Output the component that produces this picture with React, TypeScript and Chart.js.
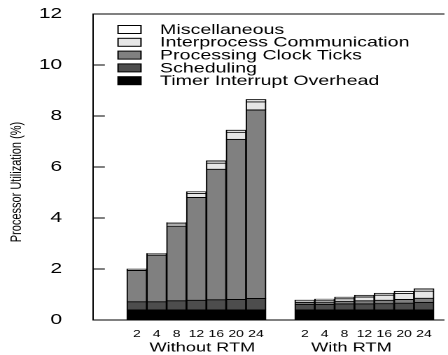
import React, { useEffect, useRef } from 'react';
import { Chart, registerables } from 'chart.js';

Chart.register(...registerables);

// ---------- data ----------
const CATEGORIES = ['2', '4', '8', '12', '16', '20', '24'];
const GROUPS = ['Without RTM', 'With RTM'];
const SERIES_LABELS = [
  'Timer Interrupt Overhead',
  'Scheduling',
  'Processing Clock Ticks',
  'Interprocess Communication',
  'Miscellaneous',
];
const SERIES_COLORS = ['#000000', '#4d4d4d', '#808080', '#e6e6e6', '#ffffff'];
const Y_TITLE = 'Processor Utilization (%)';

const timerWithout = [0.4, 0.4, 0.4, 0.4, 0.4, 0.4, 0.4];
const schedWithout = [0.32, 0.32, 0.36, 0.38, 0.4, 0.41, 0.45];
const procWithout = [1.23, 1.83, 2.93, 4.03, 5.12, 6.28, 7.39];
const ipcWithout = [0.03, 0.04, 0.09, 0.16, 0.24, 0.28, 0.32];
const miscWithout = [0.02, 0.02, 0.04, 0.06, 0.08, 0.08, 0.09];

const timerWith = [0.4, 0.4, 0.4, 0.4, 0.4, 0.4, 0.4];
const schedWith = [0.22, 0.22, 0.24, 0.24, 0.25, 0.27, 0.3];
const procWith = [0.08, 0.09, 0.1, 0.12, 0.13, 0.14, 0.16];
const ipcWith = [0.05, 0.07, 0.1, 0.15, 0.2, 0.24, 0.28];
const miscWith = [0.03, 0.04, 0.06, 0.06, 0.07, 0.08, 0.08];

const Y_MIN = 0;
const Y_MAX = 12;
const Y_STEP = 2;

// ---------- layout ----------
const W = 448;
const H = 355;
const SX = 1.4; // the original figure is stretched horizontally
const LW = W / SX;
const FONT = '"Liberation Sans", Arial, Helvetica, sans-serif';

const GROUP_GAP = 1.46; // gap between the two groups, in bar slots
const X_MIN = -2.21;
const X_MAX = 15.46;
const GROUP_LABEL_SHIFT = [0.3, -0.65];

const xPos = (g: number, i: number) => g * (CATEGORIES.length + GROUP_GAP) + i;

const seriesWithout = [timerWithout, schedWithout, procWithout, ipcWithout, miscWithout];
const seriesWith = [timerWith, schedWith, procWith, ipcWith, miscWith];

const tickPositions: number[] = [];
const tickLabels: string[] = [];
GROUPS.forEach((_, g) =>
  CATEGORIES.forEach((c, i) => {
    tickPositions.push(xPos(g, i));
    tickLabels.push(c);
  })
);
const groupPositions = GROUPS.map(
  (_, g) => xPos(g, (CATEGORIES.length - 1) / 2) + GROUP_LABEL_SHIFT[g]
);

const decorPlugin = {
  id: 'decor',
  afterDraw(chart: any) {
    const { ctx, chartArea, scales } = chart;
    ctx.save();
    // inward y tick marks
    ctx.strokeStyle = '#000';
    ctx.lineWidth = 1;
    scales.y.ticks.forEach((t: any) => {
      if (t.value === Y_MIN || t.value === Y_MAX) return;
      const y = scales.y.getPixelForValue(t.value);
      ctx.beginPath();
      ctx.moveTo(chartArea.left, y);
      ctx.lineTo(chartArea.left + 8.5, y);
      ctx.stroke();
    });
    // y axis title
    ctx.save();
    ctx.translate(12, 182);
    ctx.rotate(-Math.PI / 2);
    ctx.font = `11px ${FONT}`;
    ctx.fillStyle = '#000';
    ctx.textAlign = 'center';
    ctx.textBaseline = 'middle';
    ctx.fillText(Y_TITLE, 0, 0);
    ctx.restore();
    // legend (top series first)
    const items = chart.data.datasets.slice().reverse();
    items.forEach((ds: any, i: number) => {
      const cy = 29.5 + i * 12.8;
      ctx.fillStyle = ds.backgroundColor;
      ctx.fillRect(84.3, cy - 4, 16.4, 8);
      ctx.strokeStyle = '#000';
      ctx.lineWidth = 1;
      ctx.strokeRect(84.3, cy - 4, 16.4, 8);
      ctx.fillStyle = '#000';
      ctx.font = `14px ${FONT}`;
      ctx.textAlign = 'left';
      ctx.textBaseline = 'middle';
      ctx.fillText(ds.label, 114.3, cy + 0.5);
    });
    ctx.restore();
  },
};

export default function App() {
  const ref = useRef<HTMLCanvasElement | null>(null);

  useEffect(() => {
    if (!ref.current) return;
    const datasets = SERIES_LABELS.map((label, s) => ({
      label,
      backgroundColor: SERIES_COLORS[s],
      borderColor: '#000000',
      borderWidth: 1,
      data: [
        ...seriesWithout[s].map((v, i) => ({ x: xPos(0, i), y: v })),
        ...seriesWith[s].map((v, i) => ({ x: xPos(1, i), y: v })),
      ],
    }));

    const chart = new Chart(ref.current, {
      type: 'bar',
      data: { datasets },
      plugins: [decorPlugin],
      options: {
        animation: false,
        responsive: false,
        devicePixelRatio: 2,
        layout: { padding: { left: 0, right: 3, top: 0, bottom: 0 } },
        plugins: { legend: { display: false }, tooltip: { enabled: false } },
        datasets: { bar: { barPercentage: 1, categoryPercentage: 1 } },
        scales: {
          x: {
            type: 'linear',
            offset: false,
            stacked: true,
            min: X_MIN,
            max: X_MAX,
            position: 'bottom',
            weight: 0,
            grid: { offset: false, drawOnChartArea: false, drawTicks: false },
            border: { display: true, color: '#000', width: 1 },
            afterBuildTicks: (s: any) => {
              s.ticks = tickPositions.map((v) => ({ value: v }));
            },
            ticks: {
              autoSkip: false,
              maxRotation: 0,
              color: '#000',
              padding: 8,
              font: { family: FONT, size: 10 },
              callback: (_v: any, i: number) => tickLabels[i],
            },
            afterFit: (s: any) => {
              s.height = 20;
              s.paddingLeft = 0;
              s.paddingRight = 0;
            },
          },
          xg: {
            type: 'linear',
            offset: false,
            min: X_MIN,
            max: X_MAX,
            position: 'bottom',
            weight: 1,
            grid: { display: false, drawTicks: false },
            border: { display: false },
            afterBuildTicks: (s: any) => {
              s.ticks = groupPositions.map((v) => ({ value: v }));
            },
            ticks: {
              autoSkip: false,
              maxRotation: 0,
              color: '#000',
              padding: 0,
              font: { family: FONT, size: 13 },
              callback: (_v: any, i: number) => GROUPS[i],
            },
            afterFit: (s: any) => {
              s.height = 15;
              s.paddingLeft = 0;
              s.paddingRight = 0;
            },
          },
          xt: {
            type: 'linear',
            offset: false,
            min: X_MIN,
            max: X_MAX,
            position: 'top',
            grid: { drawOnChartArea: false, drawTicks: false },
            border: { display: true, color: '#000', width: 1 },
            ticks: { display: false },
            afterFit: (s: any) => {
              s.height = 14;
            },
          },
          y: {
            stacked: true,
            min: Y_MIN,
            max: Y_MAX,
            grid: { drawOnChartArea: false, drawTicks: false },
            border: { display: true, color: '#000', width: 1 },
            ticks: {
              stepSize: Y_STEP,
              color: '#000',
              padding: 22,
              font: { family: FONT, size: 15 },
            },
            afterFit: (s: any) => {
              s.width = 66.4;
              s.paddingTop = 0;
              s.paddingBottom = 0;
            },
          },
        },
      },
    } as any);
    return () => chart.destroy();
  }, []);

  return (
    <div style={{ position: 'absolute', left: 0, top: 0, width: W, height: H, background: '#fff' }}>
      <canvas
        ref={ref}
        width={LW}
        height={H}
        style={{ width: `${W}px`, height: `${H}px`, display: 'block' }}
      />
    </div>
  );
}
